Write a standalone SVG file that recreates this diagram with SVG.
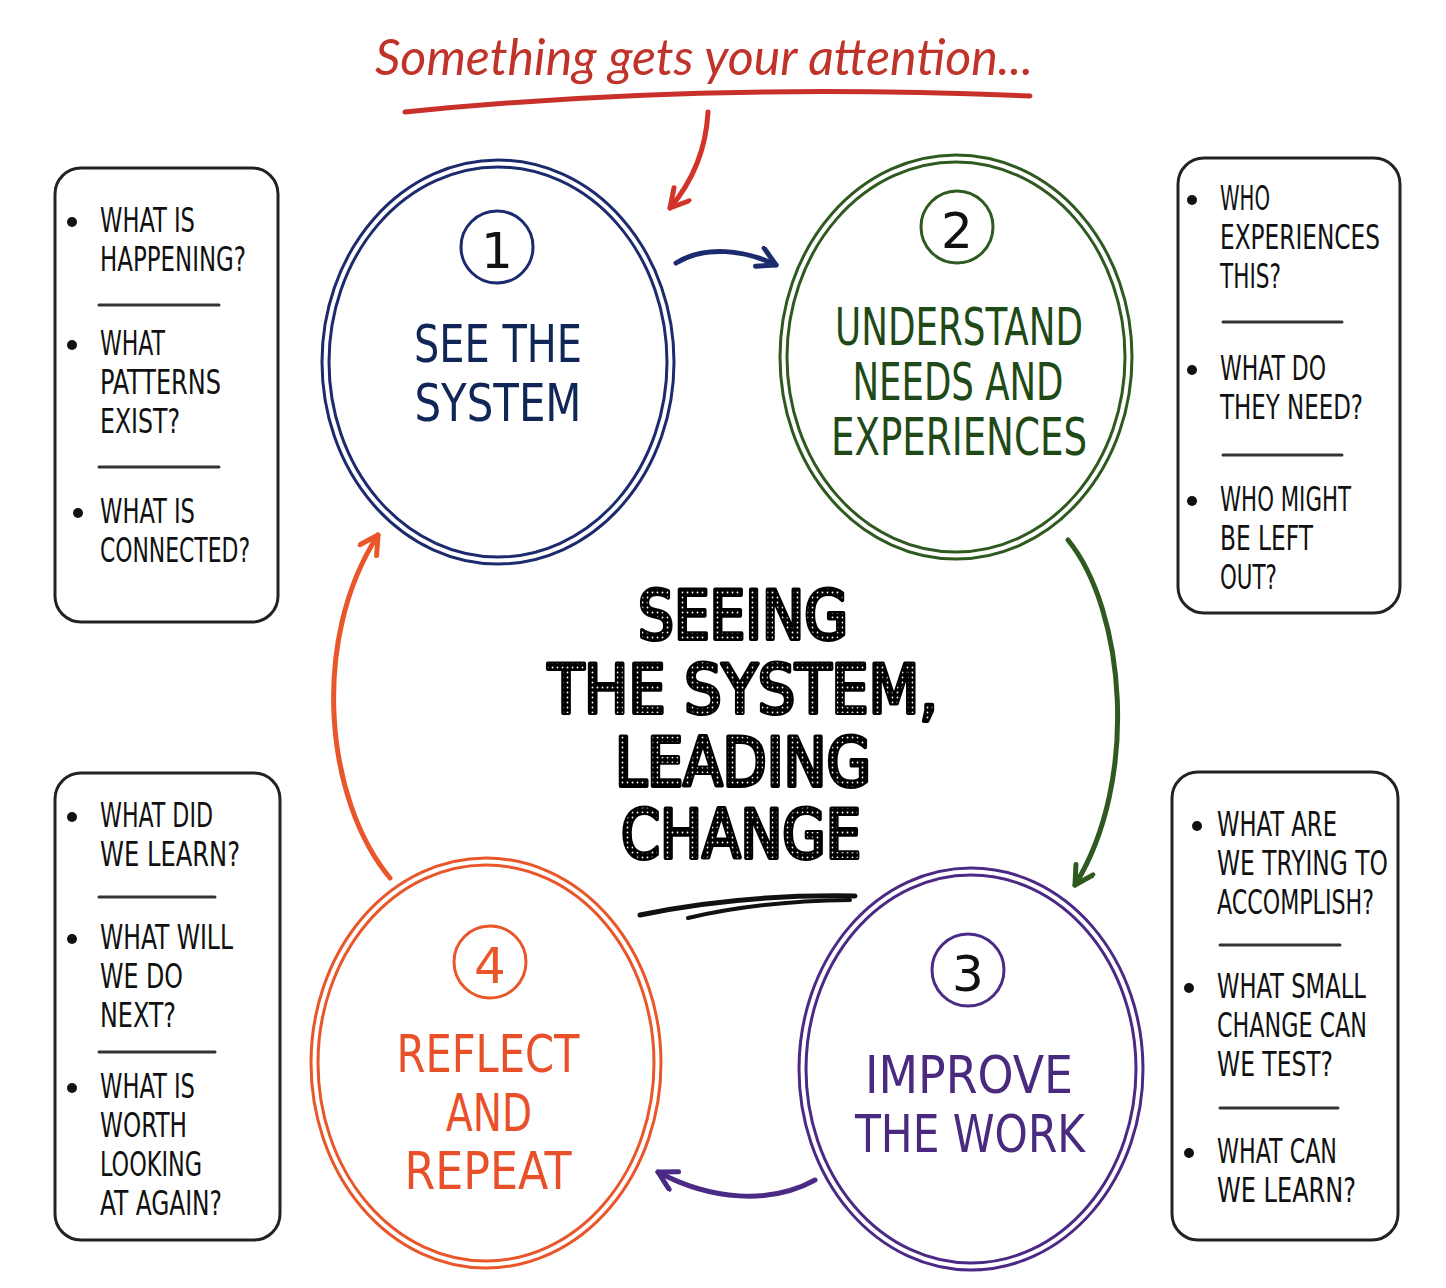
<svg xmlns="http://www.w3.org/2000/svg" width="1446" height="1288" viewBox="0 0 1446 1288">
<style>
.q{font-family:"Liberation Sans Narrow","DejaVu Sans Condensed","Liberation Sans",sans-serif;font-size:34px;fill:#111}
.c{font-family:"Liberation Sans Narrow","DejaVu Sans Condensed","Liberation Sans",sans-serif;font-size:52px;text-anchor:middle}
.n{font-family:"DejaVu Sans","Liberation Sans",sans-serif;font-size:50px;text-anchor:middle;fill:#111}
.box{fill:#fff;stroke:#222;stroke-width:3}
.sep{stroke:#333;stroke-width:3;stroke-linecap:round}
.dot{fill:#111}
.ring{fill:none;stroke-width:3}
.big{font-family:"Liberation Sans Narrow","DejaVu Sans Condensed","Liberation Sans",sans-serif;font-size:68px;text-anchor:middle;fill:url(#dots);stroke:#000;stroke-width:4;stroke-linejoin:round;paint-order:stroke}
.arr{fill:none;stroke-width:5;stroke-linecap:round}
</style>
<defs>
<pattern id="dots" width="5" height="5" patternUnits="userSpaceOnUse"><rect width="5" height="5" fill="#000"/><circle cx="2.5" cy="2.5" r="0.9" fill="#fff"/></pattern>
<marker id="mr" markerWidth="30" markerHeight="30" refX="22" refY="12" orient="auto" markerUnits="userSpaceOnUse"><path d="M4,2 L22,12 L4,22" fill="none" stroke="#d2342a" stroke-width="5" stroke-linecap="round" stroke-linejoin="round"/></marker>
<marker id="mb" markerWidth="30" markerHeight="30" refX="22" refY="12" orient="auto" markerUnits="userSpaceOnUse"><path d="M4,2 L22,12 L4,22" fill="none" stroke="#1c2a6e" stroke-width="5" stroke-linecap="round" stroke-linejoin="round"/></marker>
<marker id="mg" markerWidth="30" markerHeight="30" refX="22" refY="12" orient="auto" markerUnits="userSpaceOnUse"><path d="M4,2 L22,12 L4,22" fill="none" stroke="#2f5a1f" stroke-width="5" stroke-linecap="round" stroke-linejoin="round"/></marker>
<marker id="mp" markerWidth="30" markerHeight="30" refX="22" refY="12" orient="auto" markerUnits="userSpaceOnUse"><path d="M4,2 L22,12 L4,22" fill="none" stroke="#4b2a85" stroke-width="5" stroke-linecap="round" stroke-linejoin="round"/></marker>
<marker id="mo" markerWidth="30" markerHeight="30" refX="22" refY="12" orient="auto" markerUnits="userSpaceOnUse"><path d="M4,2 L22,12 L4,22" fill="none" stroke="#e8562a" stroke-width="5" stroke-linecap="round" stroke-linejoin="round"/></marker>
</defs>
<rect width="1446" height="1288" fill="#fff"/>

<g id="title">
<text x="375" y="75" textLength="658" lengthAdjust="spacingAndGlyphs" font-family="Lato,'Open Sans',sans-serif" font-style="italic" font-size="50" fill="#c0332a">Something gets your attention...</text>
<path d="M405,112 Q700,82 1030,96" fill="none" stroke="#c9302a" stroke-width="5" stroke-linecap="round"/>
</g>

<g id="center-title">
<text class="big" x="743" y="639" textLength="210" lengthAdjust="spacingAndGlyphs">SEEING</text>
<text class="big" x="743" y="713" textLength="390" lengthAdjust="spacingAndGlyphs">THE SYSTEM,</text>
<text class="big" x="743" y="786" textLength="256" lengthAdjust="spacingAndGlyphs">LEADING</text>
<text class="big" x="741" y="858" textLength="240" lengthAdjust="spacingAndGlyphs">CHANGE</text>
<path d="M640,915 Q740,894 855,896" fill="none" stroke="#111" stroke-width="5" stroke-linecap="round"/>
<path d="M688,918 Q760,901 850,900" fill="none" stroke="#111" stroke-width="4" stroke-linecap="round"/>
</g>

<g id="node1">
<ellipse class="ring" cx="498" cy="362" rx="176" ry="202" stroke="#1c2a6e"/>
<ellipse class="ring" cx="498" cy="362" rx="169" ry="195" stroke="#1c2a6e"/>
<circle class="ring" cx="497" cy="247" r="36" stroke="#1c2a6e"/>
<text class="n" x="497" y="268">1</text>
<text class="c" x="498" y="362" fill="#0f2656" textLength="168" lengthAdjust="spacingAndGlyphs">SEE THE</text>
<text class="c" x="498" y="421" fill="#0f2656" textLength="167" lengthAdjust="spacingAndGlyphs">SYSTEM</text>
</g>

<g id="node2">
<ellipse class="ring" cx="956" cy="357" rx="176" ry="202" stroke="#2f5a1f"/>
<ellipse class="ring" cx="956" cy="357" rx="169" ry="195" stroke="#2f5a1f"/>
<circle class="ring" cx="957" cy="227" r="36" stroke="#2f5a1f"/>
<text class="n" x="957" y="248">2</text>
<text class="c" x="959" y="345" font-size="47" fill="#1f4a17" textLength="248" lengthAdjust="spacingAndGlyphs">UNDERSTAND</text>
<text class="c" x="958" y="400" font-size="47" fill="#1f4a17" textLength="211" lengthAdjust="spacingAndGlyphs">NEEDS AND</text>
<text class="c" x="959" y="455" font-size="47" fill="#1f4a17" textLength="256" lengthAdjust="spacingAndGlyphs">EXPERIENCES</text>
</g>

<g id="node3">
<ellipse class="ring" cx="971" cy="1069" rx="172" ry="201" stroke="#4b2a85"/>
<ellipse class="ring" cx="971" cy="1069" rx="165" ry="194" stroke="#4b2a85"/>
<circle class="ring" cx="968" cy="970" r="36" stroke="#4b2a85"/>
<text class="n" x="968" y="991">3</text>
<text class="c" x="969" y="1093" fill="#4a2a7f" textLength="208" lengthAdjust="spacingAndGlyphs">IMPROVE</text>
<text class="c" x="970" y="1152" fill="#4a2a7f" textLength="230" lengthAdjust="spacingAndGlyphs">THE WORK</text>
</g>

<g id="node4">
<ellipse class="ring" cx="486" cy="1063" rx="175" ry="205" stroke="#e8562a"/>
<ellipse class="ring" cx="486" cy="1063" rx="168" ry="198" stroke="#e8562a"/>
<circle class="ring" cx="490" cy="962" r="36" stroke="#e8562a"/>
<text class="n" x="490" y="983" style="fill:#e8562a">4</text>
<text class="c" x="488" y="1072" fill="#e8502a" textLength="183" lengthAdjust="spacingAndGlyphs">REFLECT</text>
<text class="c" x="489" y="1131" fill="#e8502a" textLength="86" lengthAdjust="spacingAndGlyphs">AND</text>
<text class="c" x="488" y="1189" fill="#e8502a" textLength="167" lengthAdjust="spacingAndGlyphs">REPEAT</text>
</g>

<g id="connectors">
<path class="arr" d="M708,112 C706,150 692,182 670,208" stroke="#d2342a" marker-end="url(#mr)"/>
<path class="arr" d="M676,263 C705,245 745,250 776,265" stroke="#1c2a6e" marker-end="url(#mb)"/>
<path class="arr" d="M1068,540 C1125,610 1140,780 1075,885" stroke="#2f5a1f" marker-end="url(#mg)"/>
<path class="arr" d="M815,1180 C770,1205 710,1200 658,1172" stroke="#4b2a85" marker-end="url(#mp)"/>
<path class="arr" d="M390,878 C325,800 310,640 378,535" stroke="#e8562a" marker-end="url(#mo)"/>
</g>

<g id="box-see">
<rect class="box" x="55" y="168" width="223" height="454" rx="26"/>
<circle class="dot" cx="72" cy="222" r="5"/>
<text class="q" x="100" y="232" textLength="95" lengthAdjust="spacingAndGlyphs">WHAT IS</text>
<text class="q" x="100" y="271" textLength="146" lengthAdjust="spacingAndGlyphs">HAPPENING?</text>
<line class="sep" x1="99" y1="305" x2="219" y2="305"/>
<circle class="dot" cx="72" cy="345" r="5"/>
<text class="q" x="100" y="355" textLength="65" lengthAdjust="spacingAndGlyphs">WHAT</text>
<text class="q" x="100" y="394" textLength="121" lengthAdjust="spacingAndGlyphs">PATTERNS</text>
<text class="q" x="100" y="433" textLength="80" lengthAdjust="spacingAndGlyphs">EXIST?</text>
<line class="sep" x1="99" y1="467" x2="219" y2="467"/>
<circle class="dot" cx="78" cy="513" r="5"/>
<text class="q" x="100" y="523" textLength="95" lengthAdjust="spacingAndGlyphs">WHAT IS</text>
<text class="q" x="100" y="562" textLength="150" lengthAdjust="spacingAndGlyphs">CONNECTED?</text>
</g>

<g id="box-understand">
<rect class="box" x="1178" y="158" width="222" height="455" rx="26"/>
<circle class="dot" cx="1192" cy="200" r="5"/>
<text class="q" x="1220" y="210" textLength="50" lengthAdjust="spacingAndGlyphs">WHO</text>
<text class="q" x="1220" y="249" textLength="160" lengthAdjust="spacingAndGlyphs">EXPERIENCES</text>
<text class="q" x="1220" y="288" textLength="61" lengthAdjust="spacingAndGlyphs">THIS?</text>
<line class="sep" x1="1223" y1="322" x2="1342" y2="322"/>
<circle class="dot" cx="1192" cy="370" r="5"/>
<text class="q" x="1220" y="380" textLength="106" lengthAdjust="spacingAndGlyphs">WHAT DO</text>
<text class="q" x="1220" y="419" textLength="143" lengthAdjust="spacingAndGlyphs">THEY NEED?</text>
<line class="sep" x1="1223" y1="455" x2="1342" y2="455"/>
<circle class="dot" cx="1192" cy="501" r="5"/>
<text class="q" x="1220" y="511" textLength="131" lengthAdjust="spacingAndGlyphs">WHO MIGHT</text>
<text class="q" x="1220" y="550" textLength="93" lengthAdjust="spacingAndGlyphs">BE LEFT</text>
<text class="q" x="1220" y="589" textLength="57" lengthAdjust="spacingAndGlyphs">OUT?</text>
</g>

<g id="box-reflect">
<rect class="box" x="55" y="773" width="225" height="467" rx="26"/>
<circle class="dot" cx="72" cy="817" r="5"/>
<text class="q" x="100" y="827" textLength="113" lengthAdjust="spacingAndGlyphs">WHAT DID</text>
<text class="q" x="100" y="866" textLength="140" lengthAdjust="spacingAndGlyphs">WE LEARN?</text>
<line class="sep" x1="99" y1="897" x2="215" y2="897"/>
<circle class="dot" cx="72" cy="939" r="5"/>
<text class="q" x="100" y="949" textLength="133" lengthAdjust="spacingAndGlyphs">WHAT WILL</text>
<text class="q" x="100" y="988" textLength="83" lengthAdjust="spacingAndGlyphs">WE DO</text>
<text class="q" x="100" y="1027" textLength="76" lengthAdjust="spacingAndGlyphs">NEXT?</text>
<line class="sep" x1="99" y1="1052" x2="215" y2="1052"/>
<circle class="dot" cx="72" cy="1088" r="5"/>
<text class="q" x="100" y="1098" textLength="95" lengthAdjust="spacingAndGlyphs">WHAT IS</text>
<text class="q" x="100" y="1137" textLength="87" lengthAdjust="spacingAndGlyphs">WORTH</text>
<text class="q" x="100" y="1176" textLength="102" lengthAdjust="spacingAndGlyphs">LOOKING</text>
<text class="q" x="100" y="1215" textLength="122" lengthAdjust="spacingAndGlyphs">AT AGAIN?</text>
</g>

<g id="box-improve">
<rect class="box" x="1172" y="772" width="226" height="468" rx="26"/>
<circle class="dot" cx="1197" cy="826" r="5"/>
<text class="q" x="1217" y="836" textLength="120" lengthAdjust="spacingAndGlyphs">WHAT ARE</text>
<text class="q" x="1217" y="875" textLength="171" lengthAdjust="spacingAndGlyphs">WE TRYING TO</text>
<text class="q" x="1217" y="914" textLength="157" lengthAdjust="spacingAndGlyphs">ACCOMPLISH?</text>
<line class="sep" x1="1220" y1="945" x2="1340" y2="945"/>
<circle class="dot" cx="1189" cy="988" r="5"/>
<text class="q" x="1217" y="998" textLength="149" lengthAdjust="spacingAndGlyphs">WHAT SMALL</text>
<text class="q" x="1217" y="1037" textLength="150" lengthAdjust="spacingAndGlyphs">CHANGE CAN</text>
<text class="q" x="1217" y="1076" textLength="116" lengthAdjust="spacingAndGlyphs">WE TEST?</text>
<line class="sep" x1="1220" y1="1108" x2="1338" y2="1108"/>
<circle class="dot" cx="1189" cy="1153" r="5"/>
<text class="q" x="1217" y="1163" textLength="120" lengthAdjust="spacingAndGlyphs">WHAT CAN</text>
<text class="q" x="1217" y="1202" textLength="139" lengthAdjust="spacingAndGlyphs">WE LEARN?</text>
</g>
</svg>
